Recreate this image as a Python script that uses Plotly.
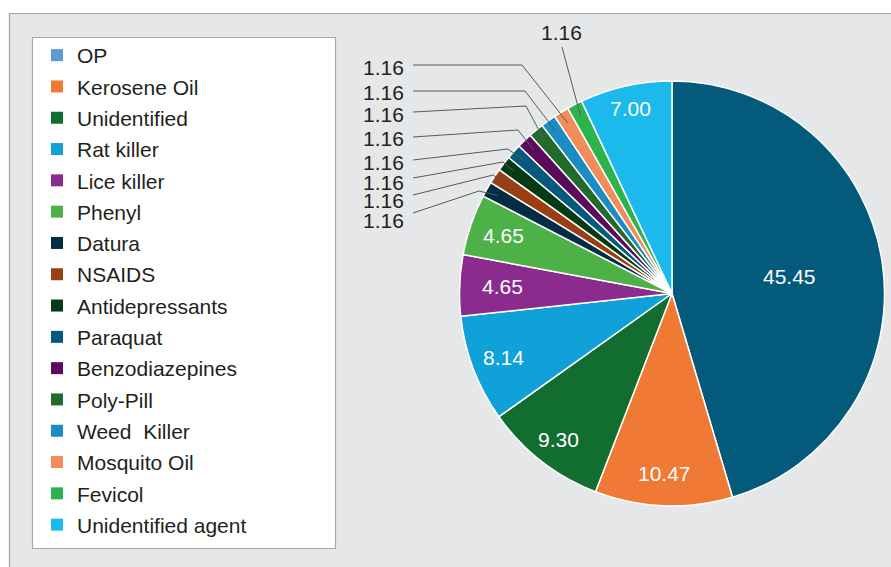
import math
import plotly.graph_objects as go

W, H = 891, 567

categories = ["OP", "Kerosene Oil", "Unidentified", "Rat killer", "Lice killer", "Phenyl",
              "Datura", "NSAIDS", "Antidepressants", "Paraquat", "Benzodiazepines",
              "Poly-Pill", "Weed  Killer", "Mosquito Oil", "Fevicol", "Unidentified agent"]
values = [45.45, 10.47, 9.30, 8.14, 4.65, 4.65, 1.16, 1.16, 1.16, 1.16, 1.16,
          1.16, 1.16, 1.16, 1.16, 7.00]
value_labels = ["45.45", "10.47", "9.30", "8.14", "4.65", "4.65", "1.16", "1.16", "1.16",
                "1.16", "1.16", "1.16", "1.16", "1.16", "1.16", "7.00"]
slice_colors = ["#045a7b", "#f07935", "#116d30", "#0fa1d8", "#8b2b8e", "#4db148",
                "#032c45", "#9a3e13", "#033c14", "#045a7c", "#5b0b5c", "#236b2c",
                "#1c8dc4", "#f08d5a", "#2db34e", "#1cb9ec"]
legend_colors = ["#5b9bd5"] + slice_colors[1:]

# small slices labelled outside, in label order (left column top->bottom), then top label
outside_left = ["Mosquito Oil", "Weed  Killer", "Poly-Pill", "Benzodiazepines",
                "Paraquat", "Antidepressants", "NSAIDS", "Datura"]
outside_top = "Fevicol"

# ---- layout constants (pixels) ----
CX, CY, R = 672.0, 293.5, 212.5
FONT = "Liberation Sans, Arial, sans-serif"
TXT = "#231f20"
# radial position (fraction of radius) of inside labels, by slice
inside_label_radius = {"OP": 0.56, "Kerosene Oil": 0.85, "Unidentified": 0.87,
                       "Rat killer": 0.85, "Lice killer": 0.80, "Phenyl": 0.84,
                       "Unidentified agent": 0.89}
left_label_y = [67, 93, 114, 138, 162, 182, 201, 220]
left_label_xr = 406
left_line_y0 = [65, 91, 112, 137, 160, 178, 195, 213]
left_elbows = [(522, 65), (525, 91), (526, 106), (518, 130), (508, 149), (503, 162),
               (493, 175), (479, 191)]
top_label = (561, 33)
top_line_start = (562, 47)


def px(x):
    return x / W


def py(y):
    return 1 - y / H


total = sum(values)


def slice_point(name, frac):
    i = categories.index(name)
    cum = sum(values[:i]) + values[i] / 2
    th = 2 * math.pi * cum / total
    return CX + frac * R * math.sin(th), CY - frac * R * math.cos(th)


fig = go.Figure()

fig.add_trace(go.Pie(
    labels=categories, values=values, sort=False, direction="clockwise", rotation=0,
    marker=dict(colors=slice_colors, line=dict(color="white", width=1.5)),
    textinfo="none", hoverinfo="label+value", showlegend=False,
    domain=dict(x=[px(CX - R), px(CX + R)], y=[py(CY + R), py(CY - R)]),
))

for i, (name, col) in enumerate(zip(categories, legend_colors)):
    fig.add_trace(go.Scatter(
        x=[None], y=[None], mode="markers", name=name, legendgroup=f"g{i}",
        marker=dict(symbol="square", size=12, color=col),
        showlegend=True,
    ))

shapes = []
# gray panel
shapes.append(dict(type="rect", xref="paper", yref="paper", layer="below",
                   x0=px(9.5), x1=px(W + 20), y0=py(H + 20), y1=py(13.5),
                   fillcolor="#e6e7e8", line=dict(color="#9ea0a3", width=1.2)))
# legend box
shapes.append(dict(type="rect", xref="paper", yref="paper", layer="below",
                   x0=px(32.5), x1=px(335.5), y0=py(548.5), y1=py(37.5),
                   fillcolor="white", line=dict(color="#a7a9ac", width=1.2)))

# leader lines
for name, y0, (ex, ey) in zip(outside_left, left_line_y0, left_elbows):
    sx, sy = slice_point(name, 0.94)
    shapes.append(dict(type="path", xref="paper", yref="paper", layer="above",
                       path=f"M {px(413)},{py(y0)} L {px(ex)},{py(ey)} L {px(sx)},{py(sy)}",
                       line=dict(color="#58595b", width=1)))
sx, sy = slice_point(outside_top, 0.94)
shapes.append(dict(type="path", xref="paper", yref="paper", layer="above",
                   path=f"M {px(top_line_start[0])},{py(top_line_start[1])} L {px(sx)},{py(sy)}",
                   line=dict(color="#58595b", width=1)))

annotations = []
# inside labels, placed along each slice's mid-angle
for name, frac in inside_label_radius.items():
    tx, ty = slice_point(name, frac)
    annotations.append(dict(x=px(tx), y=py(ty), xref="paper", yref="paper",
                            text=value_labels[categories.index(name)], showarrow=False,
                            xanchor="center", yanchor="middle",
                            font=dict(size=21, color="white", family=FONT)))
for name, y in zip(outside_left, left_label_y):
    annotations.append(dict(x=px(left_label_xr), y=py(y), xref="paper", yref="paper",
                            text=value_labels[categories.index(name)], showarrow=False,
                            xanchor="right", yanchor="middle",
                            font=dict(size=21, color=TXT, family=FONT)))
annotations.append(dict(x=px(top_label[0]), y=py(top_label[1]), xref="paper", yref="paper",
                        text=value_labels[categories.index(outside_top)], showarrow=False,
                        xanchor="center", yanchor="middle",
                        font=dict(size=21, color=TXT, family=FONT)))

fig.update_layout(
    width=W, height=H, margin=dict(l=0, r=0, t=0, b=0),
    paper_bgcolor="white", plot_bgcolor="rgba(0,0,0,0)",
    xaxis=dict(visible=False, range=[0, 1], fixedrange=True),
    yaxis=dict(visible=False, range=[0, 1], fixedrange=True),
    shapes=shapes, annotations=annotations,
    legend=dict(x=px(37), y=py(35), xanchor="left", yanchor="top",
                bgcolor="rgba(0,0,0,0)", borderwidth=0,
                font=dict(size=21, color=TXT, family=FONT),
                tracegroupgap=1, itemclick=False, itemdoubleclick=False),
    showlegend=True,
)

fig.write_html("out.html")
